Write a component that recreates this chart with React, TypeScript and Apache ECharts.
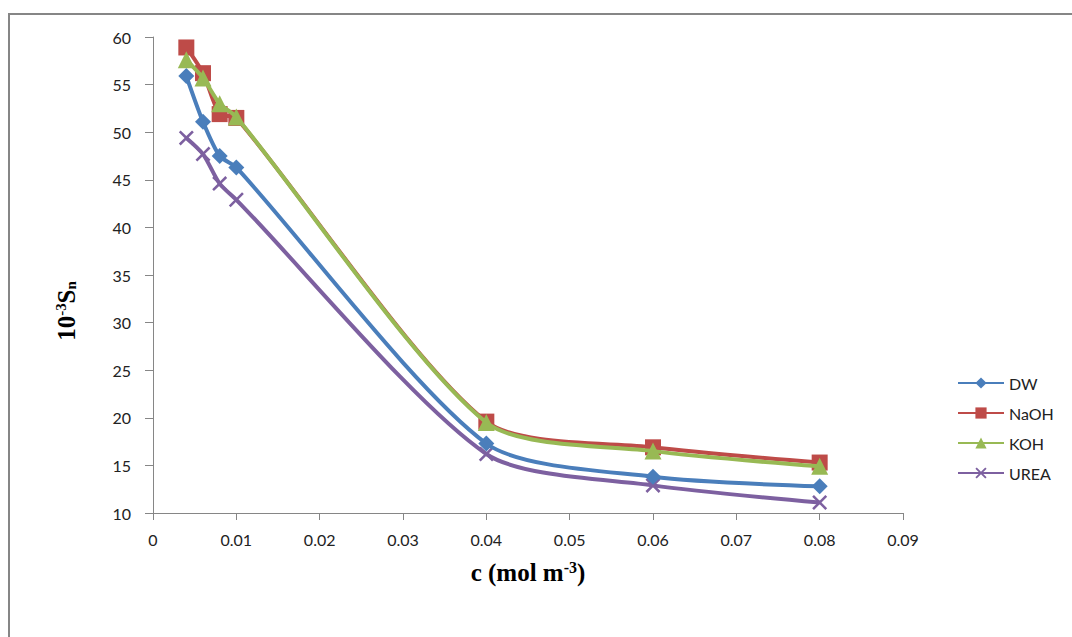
import React, { useEffect, useRef } from "react";
import * as echarts from "echarts";

const concentrations = [0.004, 0.006, 0.008, 0.01, 0.04, 0.06, 0.08];
const dwValues = [55.9, 51.1, 47.5, 46.3, 17.3, 13.8, 12.8];
const naohValues = [58.9, 56.2, 51.9, 51.5, 19.6, 16.9, 15.3];
const kohValues = [57.6, 55.7, 53.0, 51.6, 19.5, 16.5, 14.9];
const ureaValues = [49.4, 47.7, 44.6, 42.9, 16.2, 12.9, 11.1];
const seriesNames = ["DW", "NaOH", "KOH", "UREA"];
const seriesColors = ["#4A7EBB", "#BE4B48", "#98B954", "#7D60A0"];

const crossPath =
  "path://M0,1.2L1.2,0L5,3.8L8.8,0L10,1.2L6.2,5L10,8.8L8.8,10L5,6.2L1.2,10L0,8.8L3.8,5Z";

const pairs = (ys: number[]) => concentrations.map((x, i) => [x, ys[i]]);

const serifBold = { fontFamily: "Liberation Serif", fontWeight: "bold", color: "#000" };

export default function App() {
  const ref = useRef<HTMLDivElement>(null);
  useEffect(() => {
    if (!ref.current) return;
    const chart = echarts.init(ref.current, undefined, { renderer: "svg" });
    const tickFont = { fontFamily: "Lato", fontSize: 16, color: "#222" };
    const symbols = ["diamond", "rect", "triangle", crossPath];
    const sizes = [16, 16, 17, 15];
    const allValues = [dwValues, naohValues, kohValues, ureaValues];
    chart.setOption({
      animation: false,
      backgroundColor: "#ffffff",
      graphic: [
        { type: "line", shape: { x1: 8, y1: 14, x2: 1072, y2: 14 }, style: { stroke: "#868686", lineWidth: 2 } },
        { type: "line", shape: { x1: 9, y1: 14, x2: 9, y2: 637 }, style: { stroke: "#868686", lineWidth: 2 } },
        {
          type: "text",
          x: 66,
          y: 311,
          rotation: Math.PI / 2,
          style: {
            text: "{t|10}{s|-3}{t|S}{b|n}",
            align: "center",
            verticalAlign: "middle",
            rich: {
              t: { ...serifBold, fontSize: 25 },
              s: { ...serifBold, fontSize: 15, verticalAlign: "top", padding: [0, 0, 10, 0] },
              b: { ...serifBold, fontSize: 15, verticalAlign: "bottom", padding: [10, 0, 0, 0] },
            },
          },
        },
      ],
      grid: { left: 153, right: 169, top: 37, bottom: 124 },
      legend: {
        orient: "vertical",
        left: 952,
        top: 370,
        itemWidth: 46,
        itemHeight: 14,
        itemGap: 14,
        textStyle: { fontFamily: "Lato", fontSize: 16, color: "#222" },
        data: seriesNames,
      },
      xAxis: {
        type: "value",
        min: 0,
        max: 0.09,
        interval: 0.01,
        name: "{t|c (mol m}{s|-3}{t|)}",
        nameLocation: "middle",
        nameGap: 46,
        nameTextStyle: {
          rich: {
            t: { ...serifBold, fontSize: 25 },
            s: { ...serifBold, fontSize: 16, verticalAlign: "top", padding: [0, 0, 10, 0] },
          },
        },
        axisLine: { lineStyle: { color: "#868686", width: 1 } },
        axisTick: { show: true, length: 7, lineStyle: { color: "#868686" } },
        axisLabel: { ...tickFont, margin: 18 },
        splitLine: { show: false },
      },
      yAxis: {
        type: "value",
        min: 10,
        max: 60,
        interval: 5,
        axisLine: { show: true, lineStyle: { color: "#868686", width: 1 } },
        axisTick: { show: true, length: 8, lineStyle: { color: "#868686" } },
        axisLabel: { ...tickFont, margin: 22 },
        splitLine: { show: false },
      },
      series: seriesNames.map((name, i) => ({
        name,
        type: "line",
        data: pairs(allValues[i]),
        smooth: 0.25,
        symbol: symbols[i],
        symbolSize: sizes[i],
        itemStyle: { color: seriesColors[i] },
        lineStyle: { color: seriesColors[i], width: 4 },
        z: [2, 3, 4, 1][i],
      })),
    });
    return () => chart.dispose();
  }, []);
  return (
    <div
      ref={ref}
      style={{ position: "fixed", left: 0, top: 0, width: 1072, height: 637 }}
    />
  );
}
